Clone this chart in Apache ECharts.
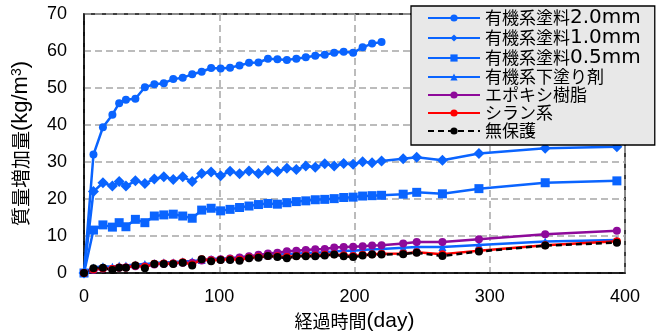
<!DOCTYPE html>
<html>
<head>
<meta charset="utf-8">
<script src="https://cdn.jsdelivr.net/npm/echarts@6/dist/echarts.min.js"></script>
<style>
html,body{margin:0;padding:0;background:#fff;}
#chart{width:660px;height:334px;}
</style>
</head>
<body>
<div id="chart"></div>
<script>
// ---- data ----
var days = [0,7,14,21,26,31,38,45,52,59,66,73,80,87,94,101,108,115,122,129,136,143,150,157,164,171,178,185,192,199,206,213,220,236,246,265,292,341,394];
var organic20 = [0,32.0,39.4,42.8,45.9,46.8,47.1,50.2,51.0,51.3,52.4,52.8,53.7,54.4,55.4,55.3,55.5,56.1,56.8,56.9,57.9,57.8,57.6,57.9,58.3,58.7,59.0,59.5,59.8,59.5,61.0,62.0,62.4];
var organic10 = [0,22.0,24.4,23.5,24.7,23.5,24.9,24.2,25.4,26.0,25.3,26.0,24.7,26.9,27.3,26.3,27.5,26.8,27.6,26.9,27.8,27.4,28.3,28.0,28.9,28.6,29.5,28.9,29.6,29.4,30.1,29.8,30.3,30.9,31.3,30.5,32.3,33.7,34.1];
var organic05 = [0,11.6,13.0,12.4,13.6,12.5,14.5,13.6,15.4,15.7,15.9,15.4,14.8,17.0,17.5,16.8,17.2,17.7,18.1,18.5,18.8,18.6,19.0,19.3,19.5,19.8,19.9,20.1,20.4,20.5,20.8,20.9,21.0,21.3,21.8,21.4,22.8,24.4,24.9];
var undercoat = [0,1.5,1.8,1.7,2.0,2.0,2.3,2.4,2.7,2.9,2.9,3.2,3.2,3.5,3.8,3.9,4.0,4.2,4.5,4.6,4.8,5.0,5.1,5.2,5.4,5.5,5.6,5.8,6.0,6.0,6.2,6.4,6.5,6.8,7.0,7.0,7.6,8.5,8.9];
var epoxy = [0,0.8,1.2,1.1,1.4,1.5,1.8,1.8,2.3,2.5,2.6,2.8,2.8,3.4,3.6,3.7,3.9,4.2,4.5,4.9,5.3,5.5,5.9,6.0,6.2,6.4,6.5,6.9,7.0,7.1,7.2,7.4,7.5,8.0,8.4,8.4,9.1,10.5,11.4];
var silane = [0,1.0,1.3,1.1,1.5,1.5,2.0,1.6,2.5,2.6,2.6,2.9,2.3,3.7,3.4,3.6,3.7,3.6,4.1,4.3,4.6,4.5,4.3,4.6,4.7,4.7,4.9,5.1,4.8,4.6,4.9,5.1,5.2,5.3,5.6,5.1,6.0,7.5,8.6];
var unprotected = [0,1.3,1.4,0.8,1.4,1.4,2.0,1.3,2.4,2.4,2.4,2.8,2.0,3.7,3.2,3.5,3.5,3.3,4.0,4.1,4.6,4.3,4.0,4.5,4.5,4.5,4.7,5.0,4.5,4.3,4.7,5.0,5.0,5.1,5.5,4.6,5.8,7.4,8.2];
var seriesNames = ['有機系塗料2.0mm','有機系塗料1.0mm','有機系塗料0.5mm','有機系下塗り剤','エポキシ樹脂','シラン系','無保護'];
var yTicks = [0,10,20,30,40,50,60,70];
var xTicks = [0,100,200,300,400];

function pairs(vals){ return vals.map(function(v,i){ return [days[i], v]; }); }

var LAT = "'Liberation Sans', Arial, sans-serif";
var CJK = "'Noto Sans CJK JP', sans-serif";
var BLUE = '#0a64ff';

function mk(name, vals, color, symbol, size, dashed){
  return {
    name: name, type: 'line', data: pairs(vals),
    symbol: symbol, symbolSize: size,
    itemStyle: {color: color},
    lineStyle: {color: color, width: 2.5, type: dashed ? [6,4] : 'solid'},
    emphasis: {disabled: true}, animation: false
  };
}
// split a label into CJK / latin runs for rich text
function richify(s){
  var out = '', cur = '', curType = null;
  for (var i = 0; i < s.length; i++){
    var ch = s[i];
    var t = /[\u3000-\u9fff\uff00-\uffef]/.test(ch) ? 'c' : 'l';
    if (t !== curType && cur){ out += '{' + curType + '|' + cur + '}'; cur = ''; }
    curType = t; cur += ch;
  }
  if (cur) out += '{' + curType + '|' + cur + '}';
  return out;
}

var chart = echarts.init(document.getElementById('chart'), null, {renderer: 'canvas'});
chart.setOption({
  backgroundColor: '#fff',
  animation: false,
  textStyle: {fontFamily: LAT},
  grid: {left: 84, right: 35, top: 14, bottom: 61, outerBoundsMode: 'none', containLabel: false,
         show: true, borderColor: '#000', borderWidth: 1.5, backgroundColor: 'transparent'},
  legend: {
    orient: 'vertical', left: 411, top: 6,
    backgroundColor: '#e8e8e8', borderColor: '#000', borderWidth: 1.3,
    padding: [2, 14, 5, 16],
    itemWidth: 52, itemHeight: 9, itemGap: 0,
    formatter: function(n){ return richify(n); },
    textStyle: {color: '#000', lineHeight: 18,
      rich: {
        c: {fontSize: 17, fontFamily: CJK, color: '#000', lineHeight: 18},
        l: {fontSize: 20, fontFamily: "'DejaVu Sans', sans-serif", color: '#000', lineHeight: 18}
      }},
    data: seriesNames
  },
  xAxis: {
    type: 'value', min: 0, max: 400, interval: 100,
    name: richify('経過時間(day)'), nameLocation: 'middle', nameGap: 36,
    nameTextStyle: {rich: {
      c: {fontSize: 18, fontFamily: CJK, color: '#000'},
      l: {fontSize: 21, fontFamily: LAT, color: '#000'}
    }},
    axisLine: {show: true, lineStyle: {color: '#000', width: 1.5}},
    axisTick: {show: false},
    axisLabel: {fontSize: 18, color: '#000', margin: 15, fontFamily: LAT,
      formatter: function(v){ return xTicks.indexOf(v) >= 0 ? String(v) : ''; }},
    splitLine: {show: true, lineStyle: {color: '#a6a6a6', width: 1.5, type: [7,4]}}
  },
  yAxis: {
    type: 'value', min: 0, max: 70, interval: 10,
    name: '{c|質量増加量}{l|(kg/m}{s|3}{l|)}', nameLocation: 'middle', nameGap: 52, nameRotate: 90,
    nameTextStyle: {rich: {
      c: {fontSize: 19, fontFamily: CJK, color: '#000'},
      l: {fontSize: 22, fontFamily: LAT, color: '#000'},
      s: {fontSize: 14, fontFamily: LAT, color: '#000', verticalAlign: 'top', padding: [0,0,8,0]}
    }},
    axisLine: {show: true, lineStyle: {color: '#000', width: 1.5}},
    axisTick: {show: false},
    axisLabel: {fontSize: 18, color: '#000', margin: 17, fontFamily: LAT,
      formatter: function(v){ return yTicks.indexOf(v) >= 0 ? String(v) : ''; }},
    splitLine: {show: true, lineStyle: {color: '#a6a6a6', width: 1.5, type: [7,4]}}
  },
  series: [
    mk(seriesNames[0], organic20, BLUE, 'circle', 8),
    mk(seriesNames[1], organic10, BLUE, 'diamond', 11),
    mk(seriesNames[2], organic05, BLUE, 'rect', 9),
    mk(seriesNames[3], undercoat, BLUE, 'triangle', 8),
    mk(seriesNames[4], epoxy, '#8e0a9a', 'circle', 8),
    mk(seriesNames[5], silane, '#ff0000', 'circle', 8),
    mk(seriesNames[6], unprotected, '#000', 'circle', 8, true)
  ]
});
</script>
</body>
</html>
